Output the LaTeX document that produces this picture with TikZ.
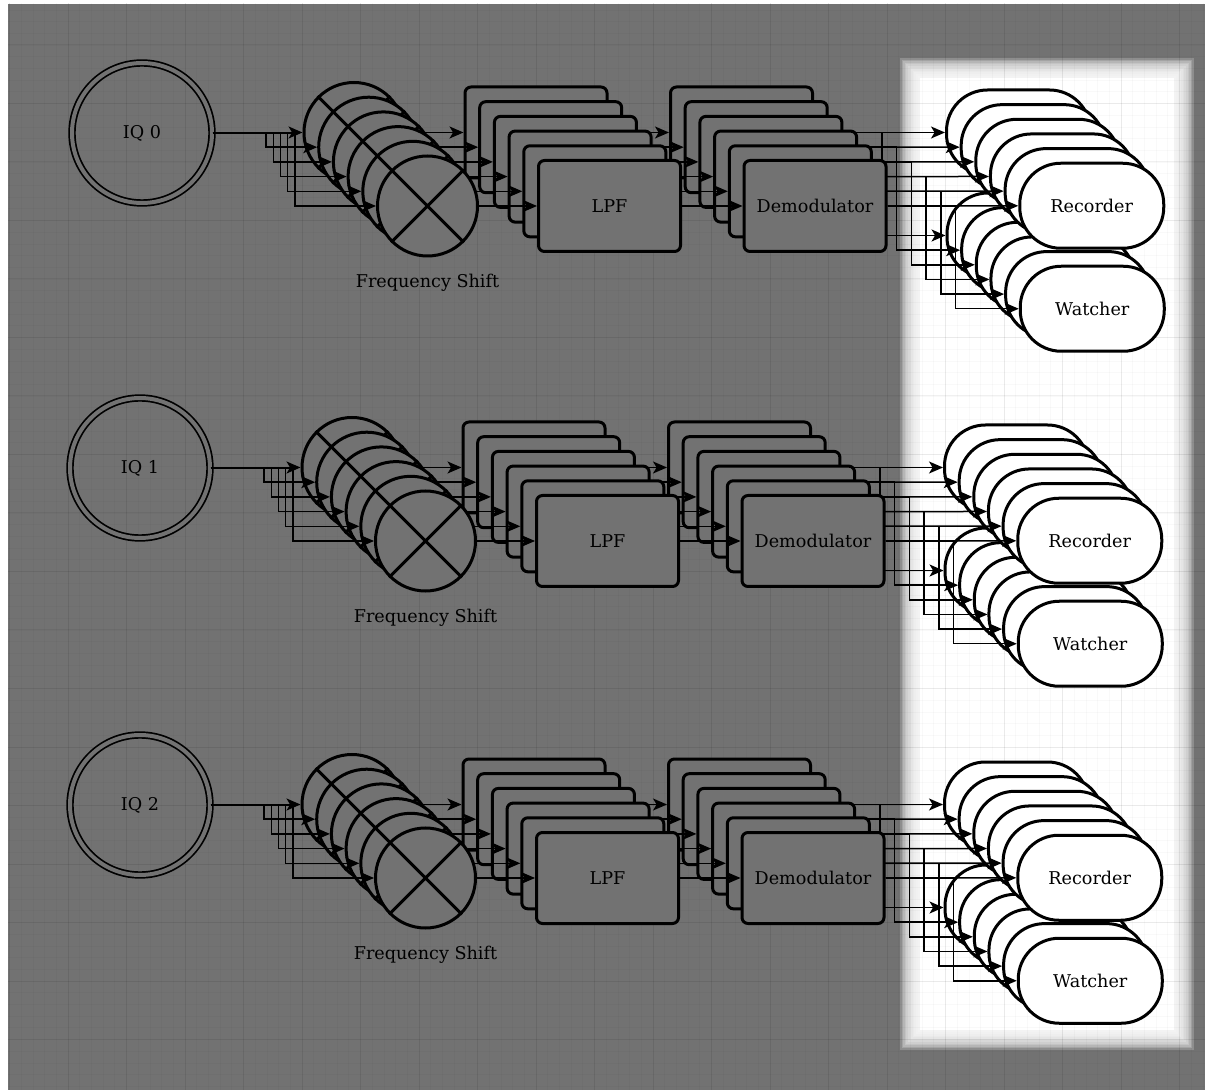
\documentclass[tikz,border=0pt]{standalone}
\usepackage{fontspec}
\setmainfont{DejaVu Serif}
\usetikzlibrary{arrows.meta,calc,positioning}
\definecolor{CanvasGray}{RGB}{114,114,114}
\tikzset{
	wire/.style={line width=0.75pt, -{Stealth[length=7pt,width=6pt,inset=1.8pt]}},
	xline/.style={line width=1.5pt},
	iqnode/.style={circle, draw, line width=0.85pt, double=CanvasGray, double distance=2pt, minimum size=70pt, inner sep=0pt, font=\fontsize{8.8}{10}\selectfont},
	mixer/.style={circle, draw, line width=1.5pt, fill=CanvasGray, minimum size=50pt, inner sep=0pt},
	filterbox/.style={rectangle, rounded corners=3pt, draw, line width=1.5pt, fill=CanvasGray, minimum width=71pt, minimum height=45.5pt, inner sep=0pt, font=\fontsize{8.8}{10}\selectfont},
	sinkbox/.style={rectangle, rounded corners=20.5pt, draw, line width=1.5pt, fill=white, minimum width=72pt, minimum height=42.5pt, inner sep=0pt, font=\fontsize{8.8}{10}\selectfont},
	lbl/.style={inner sep=0pt, font=\fontsize{8.8}{10}\selectfont},
	majorgrid/.style={line width=0.5pt, black, opacity=0.06},
	minorgrid/.style={line width=0.35pt, black, opacity=0.025}
}

\begin{document}
\begin{tikzpicture}[x=0.5pt, y=-0.5pt]
	\useasboundingbox (0,0) rectangle (1205,1090);
	% canvas
	\fill[white] (0,0) rectangle (1205,1090);
	\fill[CanvasGray] (8,4) rectangle (1205,1090);
	% soft white panel behind the sinks
	\foreach \i in {0,...,11}
		\fill[white, opacity=0.2] ({900+1.6*\i},{58+1.6*\i}) rectangle ({1194-1.6*\i},{1050-1.6*\i});
	\fill[white] (920,78) rectangle (1174,1030);
	% grid
	\begin{scope}
		\clip (8,4) rectangle (1205,1090);
		\foreach \m in {-6,...,98}
			\draw[minorgrid] ({68+11.7*\m},0) -- ({68+11.7*\m},1090);
		\foreach \m in {-4,...,90}
			\draw[minorgrid] (0,{45+11.7*\m}) -- (1205,{45+11.7*\m});
		\foreach \m in {-1,...,19}
			\draw[majorgrid] ({68+58.5*\m},0) -- ({68+58.5*\m},1090);
		\foreach \m in {-1,...,18}
			\draw[majorgrid] (0,{45+58.5*\m}) -- (1205,{45+58.5*\m});
	\end{scope}

	\foreach \r/\dx/\dy in {0/0/0, 1/-2/335, 2/-2/672}{
		\begin{scope}[shift={(\dx,\dy)}]
			\node[iqnode] (iq\r) at (142,133) {IQ \r};
			% stacked channels, back to front
			\foreach \k in {0,...,5}{
				\node[mixer] (mix\r-\k) at ({354+14.7*\k},{132.5+14.7*\k}) {};
				\draw[xline] (mix\r-\k.north west) -- (mix\r-\k.south east)
					(mix\r-\k.north east) -- (mix\r-\k.south west);
				\node[filterbox] (lpf\r-\k) at ({536+14.7*\k},{132.5+14.7*\k}) {\ifnum\k=5 LPF\fi};
				\node[filterbox] (dem\r-\k) at ({741.5+14.7*\k},{132.5+14.7*\k}) {\ifnum\k=5 Demodulator\fi};
				\node[sinkbox] (rec\r-\k) at ({1018.5+14.65*\k},{132.5+14.65*\k}) {\ifnum\k=5 Recorder\fi};
				\node[sinkbox] (wat\r-\k) at ({1019+14.65*\k},{235.5+14.65*\k}) {\ifnum\k=5 Watcher\fi};
				\draw[wire] (iq\r.east) -- ++({46+7.2*\k},0) |- (mix\r-\k.west);
				\draw[wire] (mix\r-\k) -- (lpf\r-\k);
				\draw[wire] (lpf\r-\k) -- (dem\r-\k);
				\draw[wire] (dem\r-\k) -- (rec\r-\k);
				\draw[wire] (dem\r-\k.east) -- ++(68,0) |- (wat\r-\k.west);
			}
			\node[lbl, below=8pt of mix\r-5] (fs\r) {Frequency Shift};
		\end{scope}
	}
\end{tikzpicture}
\end{document}
